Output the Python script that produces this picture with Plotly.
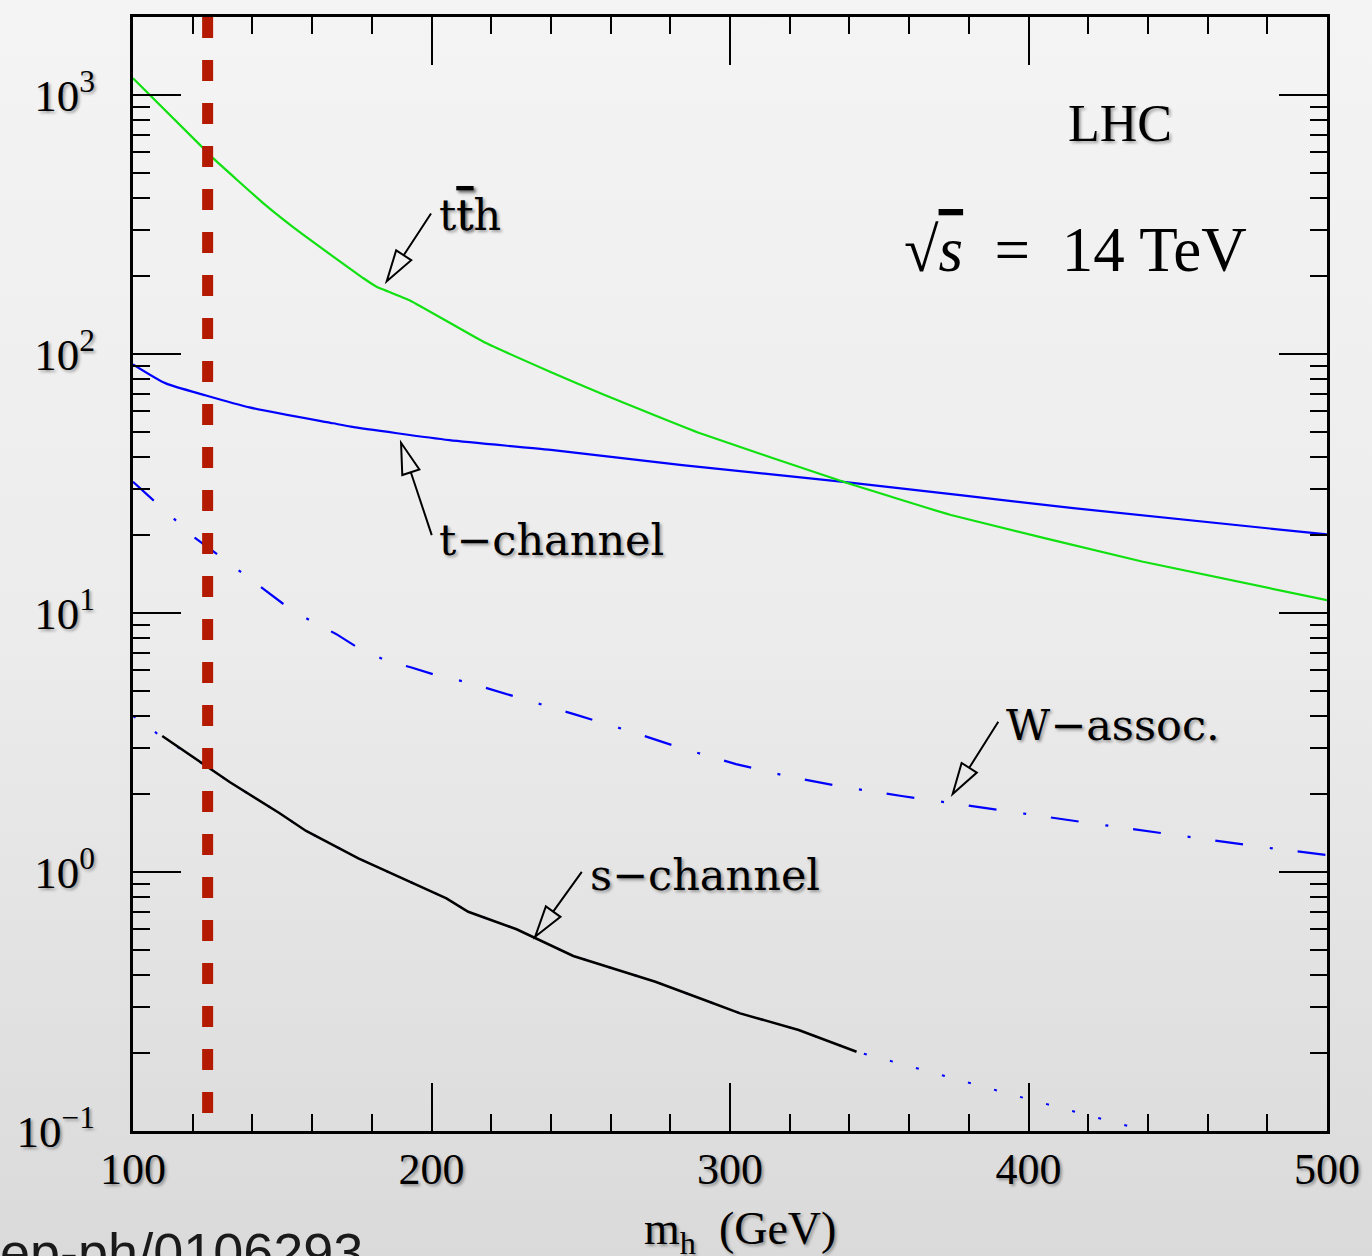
import math
import base64
import plotly.graph_objects as go

# ---------------- data ----------------
tth_mh = [100, 123.6, 126.9, 143.7, 157.1, 177.2, 181.6, 192.8, 217.4, 239.7, 258, 290, 338, 374, 438, 500]
tth_xs = [1160, 622, 569, 381.6, 288, 196, 181.8, 161, 111.5, 85.4, 69.4, 49.4, 32.1, 23.9, 15.8, 11.2]

tch_mh = [100, 111, 124, 139, 167, 173, 206, 240, 284, 338, 415, 500]
tch_xs = [91.2, 77.0, 69.4, 62.2, 54.0, 52.4, 46.5, 42.6, 37.2, 32.1, 25.4, 20.1]

wassoc_mh = [100, 106.8, 114, 121, 129, 144, 151, 159, 168, 176, 184, 193, 202, 212, 221,
             230, 248, 266, 284, 302, 320, 339, 357.5, 376, 395, 423, 451, 479, 500]
wassoc_xs = [32.1, 27.3, 22.9, 19.4, 16.6, 12.3, 10.7, 9.4, 8.3, 7.26, 6.62, 6.17, 5.73, 5.40, 5.04,
             4.68, 4.06, 3.51, 3.00, 2.61, 2.33, 2.12, 1.965, 1.83, 1.70, 1.53, 1.38, 1.245, 1.163]

sch_mh = [109.8, 125, 132.5, 149, 158, 175.5, 205, 212.3, 228.5, 247.5, 275, 293, 303.4, 323, 342.4]
sch_xs = [3.35, 2.54, 2.22, 1.69, 1.44, 1.129, 0.791, 0.702, 0.601, 0.474, 0.377, 0.3155, 0.2846, 0.2454, 0.2023]

sdot_mh = [100, 108, 125, 132.5, 149, 158, 175.5, 205, 212.3, 228.5, 247.5, 275, 293, 303.4, 323,
           342.4, 349, 397, 435, 445]
sdot_xs = [4.0, 3.43, 2.54, 2.22, 1.69, 1.44, 1.129, 0.791, 0.702, 0.601, 0.474, 0.377, 0.3155,
           0.2846, 0.2454, 0.2023, 0.193, 0.1356, 0.1033, 0.095]

higgs_mass = 125

x_tickvals = [100, 200, 300, 400, 500]
x_ticktext = ["100", "200", "300", "400", "500"]
y_tickvals = [0.1, 1, 10, 100, 1000]
y_ticktext = ["10<sup>\u22121</sup>", "10<sup>0</sup>", "10<sup>1</sup>", "10<sup>2</sup>", "10<sup>3</sup>"]

# curve labels + arrows (tip on curve, tail offset in screen pixels)
label_text = ["t<span style='text-decoration:overline'>t</span>h", "t\u2212channel",
              "W\u2212assoc.", "s\u2212channel"]
label_mh = [202.0, 201.8, 391.8, 252.4]
label_xs = [344, 19.1, 3.69, 0.973]
arrow_tip_mh = [185.0, 189.8, 374.6, 234.7]
arrow_tip_xs = [191, 45.4, 2.0, 0.562]
arrow_tail_dx = [44.3, 30.7, 45.6, 46.7]
arrow_tail_dy = [-67.7, 92.3, -72.3, -65.0]

# ---------------- figure ----------------
W, H = 1372, 1256
ML, MR, MT, MB = 133, 45, 17, 125
PW, PH = W - ML - MR, H - MT - MB

SHADOW = "2px 2px 3px rgba(0,0,0,0.35)"
SERIF = "Liberation Serif"
WIDE = "DejaVu Serif"

fig = go.Figure()

fig.add_trace(go.Scatter(x=sdot_mh, y=sdot_xs, mode="lines",
                         line=dict(color="#0000ff", width=2, dash="3px,24px"), hoverinfo="skip"))
fig.add_trace(go.Scatter(x=sch_mh, y=sch_xs, mode="lines",
                         line=dict(color="black", width=2.5), hoverinfo="skip"))
fig.add_trace(go.Scatter(x=wassoc_mh, y=wassoc_xs, mode="lines",
                         line=dict(color="#0000ff", width=2.2, dash="28px,27px,3px,25px"), hoverinfo="skip"))
fig.add_trace(go.Scatter(x=tch_mh, y=tch_xs, mode="lines",
                         line=dict(color="#0000ff", width=2.2, shape="spline", smoothing=0.6),
                         hoverinfo="skip"))
fig.add_trace(go.Scatter(x=tth_mh, y=tth_xs, mode="lines",
                         line=dict(color="#11e011", width=2.2, shape="spline", smoothing=0.3),
                         hoverinfo="skip"))
fig.add_trace(go.Scatter(x=[higgs_mass, higgs_mass], y=[2000, 0.1], mode="lines",
                         line=dict(color="#b41a00", width=11, dash="21px,22px"), hoverinfo="skip"))

# background gradient
svg = ('<svg xmlns="http://www.w3.org/2000/svg" width="10" height="100" preserveAspectRatio="none">'
       '<defs><linearGradient id="g" x1="0" y1="0" x2="0" y2="1">'
       '<stop offset="0" stop-color="#f4f4f4"/><stop offset="0.5" stop-color="#ececec"/>'
       '<stop offset="1" stop-color="#dadada"/></linearGradient></defs>'
       '<rect width="10" height="100" fill="url(#g)"/></svg>')
src = "data:image/svg+xml;base64," + base64.b64encode(svg.encode()).decode()
fig.add_layout_image(dict(source=src, xref="paper", yref="paper", x=-ML / PW, y=1 + MT / PH,
                          sizex=W / PW, sizey=H / PH, xanchor="left", yanchor="top",
                          sizing="stretch", layer="below"))

# arrows (shaft + hollow head) as pixel-sized paths anchored at the tips
HEAD_L, HEAD_W = 31.0, 9.0
shapes = []
for m, s, dx, dy in zip(arrow_tip_mh, arrow_tip_xs, arrow_tail_dx, arrow_tail_dy):
    n = math.hypot(dx, dy)
    ux, uy = dx / n, dy / n
    bx, by = ux * HEAD_L, uy * HEAD_L
    px, py = -uy, ux
    c1 = (bx + px * HEAD_W, by + py * HEAD_W)
    c2 = (bx - px * HEAD_W, by - py * HEAD_W)
    path = ("M {:.2f} {:.2f} L {:.2f} {:.2f} "
            "M 0 0 L {:.2f} {:.2f} L {:.2f} {:.2f} Z").format(bx, -by, dx, -dy,
                                                            c1[0], -c1[1], c2[0], -c2[1])
    shapes.append(dict(type="path", xref="x", yref="y", xsizemode="pixel", ysizemode="pixel",
                       xanchor=m, yanchor=s, path=path, fillcolor="rgba(0,0,0,0)",
                       line=dict(color="black", width=2)))

annotations = []
for t, m, s in zip(label_text, label_mh, label_xs):
    annotations.append(dict(x=m, y=math.log10(s), xref="x", yref="y", text=t, showarrow=False,
                            xanchor="left", yanchor="middle",
                            font=dict(family=WIDE, size=43, color="black", shadow=SHADOW)))

annotations.append(dict(x=430.7, y=math.log10(773), xref="x", yref="y", text="LHC", showarrow=False,
                        xanchor="center", yanchor="middle",
                        font=dict(family=SERIF, size=52, color="black", shadow=SHADOW)))
annotations.append(dict(x=415.6, y=math.log10(252), xref="x", yref="y",
                        text="\u221a<span style='text-decoration:overline'><i>s</i></span>  =  14 TeV",
                        showarrow=False, xanchor="center", yanchor="middle",
                        font=dict(family=SERIF, size=63, color="black")))
annotations.append(dict(x=(740 - ML) / PW, y=(H - MB - 1232) / PH, xref="paper", yref="paper",
                        text="m<sub>h</sub>  (GeV)", showarrow=False, xanchor="center", yanchor="middle",
                        font=dict(family=SERIF, size=46, color="black", shadow=SHADOW)))
annotations.append(dict(x=(365 - ML) / PW, y=(H - MB - 1220) / PH, xref="paper", yref="paper",
                        text="hep-ph/0106293", showarrow=False, xanchor="right", yanchor="top",
                        font=dict(family="Liberation Sans", size=54, color="#1a1a1a")))

minor_y = [d * 10 ** e for e in range(-1, 4) for d in range(2, 10) if d * 10 ** e < 2000]

fig.update_layout(
    width=W, height=H, margin=dict(l=ML, r=MR, t=MT, b=MB, autoexpand=False),
    template="none", showlegend=False,
    paper_bgcolor="#e8e8e8", plot_bgcolor="rgba(0,0,0,0)",
    shapes=shapes, annotations=annotations,
    xaxis=dict(range=[100, 500], tickmode="array", tickvals=x_tickvals, ticktext=x_ticktext,
               showline=True, linecolor="black", linewidth=3, mirror="allticks",
               ticks="inside", ticklen=48, tickwidth=2, tickcolor="black",
               minor=dict(ticks="inside", ticklen=17, tickwidth=2, tickcolor="black", dtick=20, tick0=100,
                          showgrid=False),
               showgrid=False, zeroline=False, automargin=False, ticklabelstandoff=-3,
               tickfont=dict(family=SERIF, size=44, color="black", shadow=SHADOW)),
    yaxis=dict(type="log", range=[-1, math.log10(2000)], tickmode="array", tickvals=y_tickvals,
               ticktext=y_ticktext,
               showline=True, linecolor="black", linewidth=3, mirror="allticks",
               ticks="inside", ticklen=48, tickwidth=2, tickcolor="black",
               minor=dict(ticks="inside", ticklen=17, tickwidth=2, tickcolor="black", tickmode="array",
                          tickvals=minor_y, showgrid=False),
               showgrid=False, zeroline=False, automargin=False, ticklabelstandoff=26,
               tickfont=dict(family=SERIF, size=45, color="black", shadow=SHADOW)),
)

fig.write_html("out.html", config={"displayModeBar": False},
               post_script="document.body.style.margin='0px';document.body.style.overflow='hidden';")
